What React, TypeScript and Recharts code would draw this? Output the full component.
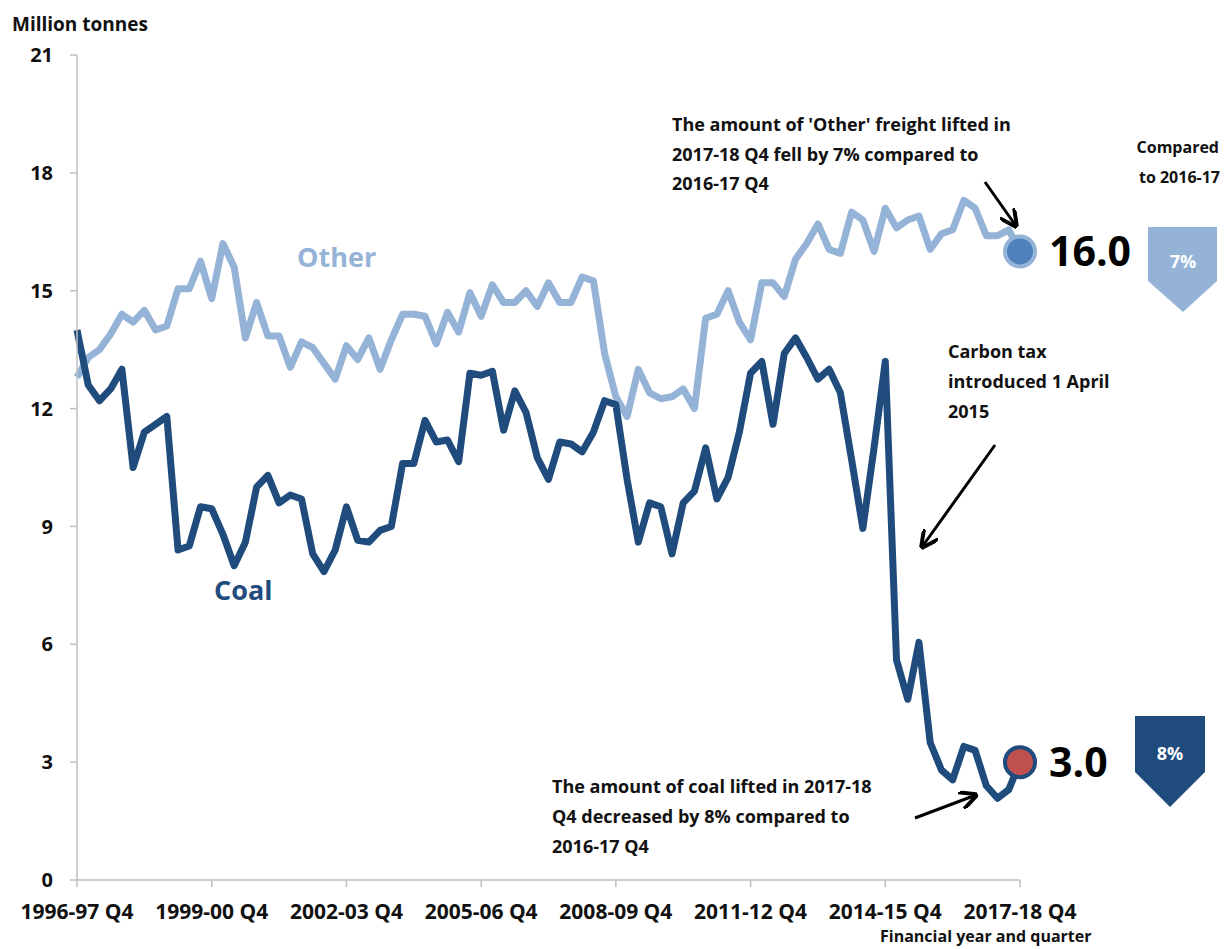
import React from "react";
import { LineChart, Line, XAxis, YAxis } from "recharts";

// quarterly freight lifted, million tonnes, 1996-97 Q4 .. 2017-18 Q4
const coal = [
  14.0, 12.6, 12.2, 12.5, 13.0, 10.5, 11.4, 11.6, 11.8, 8.4, 8.5, 9.5, 9.45,
  8.8, 8.0, 8.6, 10.0, 10.3, 9.6, 9.8, 9.7, 8.3, 7.85, 8.4, 9.5, 8.65, 8.6,
  8.9, 9.0, 10.6, 10.6, 11.7, 11.15, 11.2, 10.65, 12.9, 12.85, 12.95, 11.45,
  12.45, 11.9, 10.75, 10.2, 11.15, 11.1, 10.9, 11.4, 12.2, 12.1, 10.2, 8.6,
  9.6, 9.5, 8.3, 9.6, 9.9, 11.0, 9.7, 10.25, 11.4, 12.9, 13.2, 11.6, 13.4,
  13.8, 13.3, 12.75, 13.0, 12.4, 10.7, 8.95, 11.0, 13.2, 5.6, 4.6, 6.05, 3.5,
  2.8, 2.55, 3.4, 3.3, 2.4, 2.08, 2.3, 3.0,
];

const other = [
  12.8, 13.3, 13.5, 13.9, 14.4, 14.2, 14.5, 14.0, 14.1, 15.05, 15.05, 15.75,
  14.8, 16.2, 15.6, 13.8, 14.7, 13.85, 13.85, 13.05, 13.7, 13.55, 13.15, 12.75,
  13.6, 13.25, 13.8, 13.0, 13.75, 14.4, 14.4, 14.35, 13.65, 14.45, 13.95,
  14.95, 14.35, 15.15, 14.7, 14.7, 15.0, 14.6, 15.2, 14.7, 14.7, 15.35, 15.25,
  13.4, 12.3, 11.8, 13.0, 12.4, 12.25, 12.3, 12.5, 12.0, 14.3, 14.4, 15.0,
  14.2, 13.75, 15.2, 15.2, 14.85, 15.8, 16.2, 16.7, 16.05, 15.95, 17.0, 16.8,
  16.0, 17.1, 16.6, 16.8, 16.9, 16.05, 16.45, 16.55, 17.3, 17.1, 16.4, 16.4,
  16.55, 16.0,
];

const yTicks = [0, 3, 6, 9, 12, 15, 18, 21];

// financial-year quarter labels
const quarters: string[] = ["1996-97 Q4"];
for (let y = 1997; y < 2018; y++) {
  const fy = `${y}-${String((y + 1) % 100).padStart(2, "0")}`;
  for (let q = 1; q <= 4; q++) quarters.push(`${fy} Q${q}`);
}

const data = quarters.map((q, i) => ({ quarter: q, coal: coal[i], other: other[i] }));
const last = data.length - 1;

const FONT = "'Open Sans', sans-serif";
const OTHER_COL = "#95B3D7";
const COAL_COL = "#1F4B7D";

const endDot = (fill: string, ring: string) => (props: any) => {
  const { cx, cy, index, value } = props;
  if (index !== last) return <g key={`d-${index}`} />;
  return (
    <g key={`d-${index}`}>
      <circle cx={cx} cy={cy} r={15} fill={fill} stroke={ring} strokeWidth={4} />
      <text x={cx + 29} y={cy} dy="0.36em" fontFamily={FONT} fontWeight={700}
        fontSize={41} fill="#000">
        {Number(value).toFixed(1)}
      </text>
    </g>
  );
};

const txt = { fontFamily: FONT, fontWeight: 700, fill: "#111" } as const;

const Annotations = () => (
  <svg width={1225} height={949}
    style={{ position: "absolute", left: 0, top: 0, pointerEvents: "none" }}>
    <defs>
      <marker id="ah" viewBox="0 0 10 10" refX="9" refY="5" markerWidth="6"
        markerHeight="6" orient="auto">
        <path d="M0,0 L10,5 L0,10" fill="none" stroke="#000" strokeWidth="2.2" />
      </marker>
    </defs>

    <text x={12} y={31} fontSize={19} {...txt}>Million tonnes</text>

    <text x={297} y={267} fontSize={27} {...txt} fill={OTHER_COL}>Other</text>
    <text x={214} y={600} fontSize={27} {...txt} fill={COAL_COL}>Coal</text>

    <text fontSize={18} {...txt}>
      <tspan x={672} y={131}>The amount of 'Other' freight lifted in</tspan>
      <tspan x={672} y={161}>2017-18 Q4 fell by 7% compared to</tspan>
      <tspan x={672} y={190}>2016-17 Q4</tspan>
    </text>
    <line x1={985} y1={182} x2={1016} y2={226} stroke="#000" strokeWidth={3} markerEnd="url(#ah)" />

    <text fontSize={18} {...txt}>
      <tspan x={948} y={358}>Carbon tax</tspan>
      <tspan x={948} y={388}>introduced  1 April</tspan>
      <tspan x={948} y={418}>2015</tspan>
    </text>
    <line x1={995} y1={445} x2={922} y2={547} stroke="#000" strokeWidth={3} markerEnd="url(#ah)" />

    <text fontSize={18} {...txt}>
      <tspan x={552} y={793}>The amount of coal lifted in 2017-18</tspan>
      <tspan x={552} y={823}>Q4 decreased by 8% compared to</tspan>
      <tspan x={552} y={853}>2016-17 Q4</tspan>
    </text>
    <line x1={915} y1={818} x2={976} y2={795} stroke="#000" strokeWidth={3} markerEnd="url(#ah)" />

    <text fontSize={16} textAnchor="end" {...txt}>
      <tspan x={1219} y={153}>Compared</tspan>
      <tspan x={1220} y={183}>to 2016-17</tspan>
    </text>

    <polygon points="1148,227 1217,227 1217,281 1183,312 1148,281" fill={OTHER_COL} />
    <text x={1183} y={268} textAnchor="middle" fontSize={18} {...txt} fill="#fff">7%</text>

    <polygon points="1135,716 1205,716 1205,772 1170,807 1135,772" fill={COAL_COL} />
    <text x={1170} y={760} textAnchor="middle" fontSize={18} {...txt} fill="#fff">8%</text>

    <text x={880} y={942} fontSize={16} {...txt}>Financial  year and quarter</text>
  </svg>
);

export default function App() {
  return (
    <div style={{ position: "absolute", left: 0, top: 0, width: 1225, height: 949, background: "#fff" }}>
      <LineChart width={1225} height={949} data={data}
        margin={{ top: 55, right: 205, bottom: 39, left: 0 }}>
        <XAxis dataKey="quarter" interval={11} height={30} tickSize={7} tickMargin={17}
          axisLine={{ stroke: "#BFBFBF", strokeWidth: 1.5 }}
          tickLine={{ stroke: "#BFBFBF", strokeWidth: 1.5 }}
          tick={{ fontFamily: FONT, fontWeight: 700, fontSize: 21, fill: "#111" }} />
        <YAxis domain={[0, 21]} ticks={yTicks} width={77} tickSize={7} tickMargin={17}
          axisLine={{ stroke: "#BFBFBF", strokeWidth: 1.5 }}
          tickLine={{ stroke: "#BFBFBF", strokeWidth: 1.5 }}
          tick={{ fontFamily: FONT, fontWeight: 700, fontSize: 20, fill: "#111" }} />
        <Line dataKey="other" stroke={OTHER_COL} strokeWidth={7} strokeLinejoin="round"
          dot={endDot("#4F81BD", OTHER_COL)} activeDot={false} isAnimationActive={false} />
        <Line dataKey="coal" stroke={COAL_COL} strokeWidth={7} strokeLinejoin="round"
          dot={endDot("#C0504D", COAL_COL)} activeDot={false} isAnimationActive={false} />
      </LineChart>
      <Annotations />
    </div>
  );
}
